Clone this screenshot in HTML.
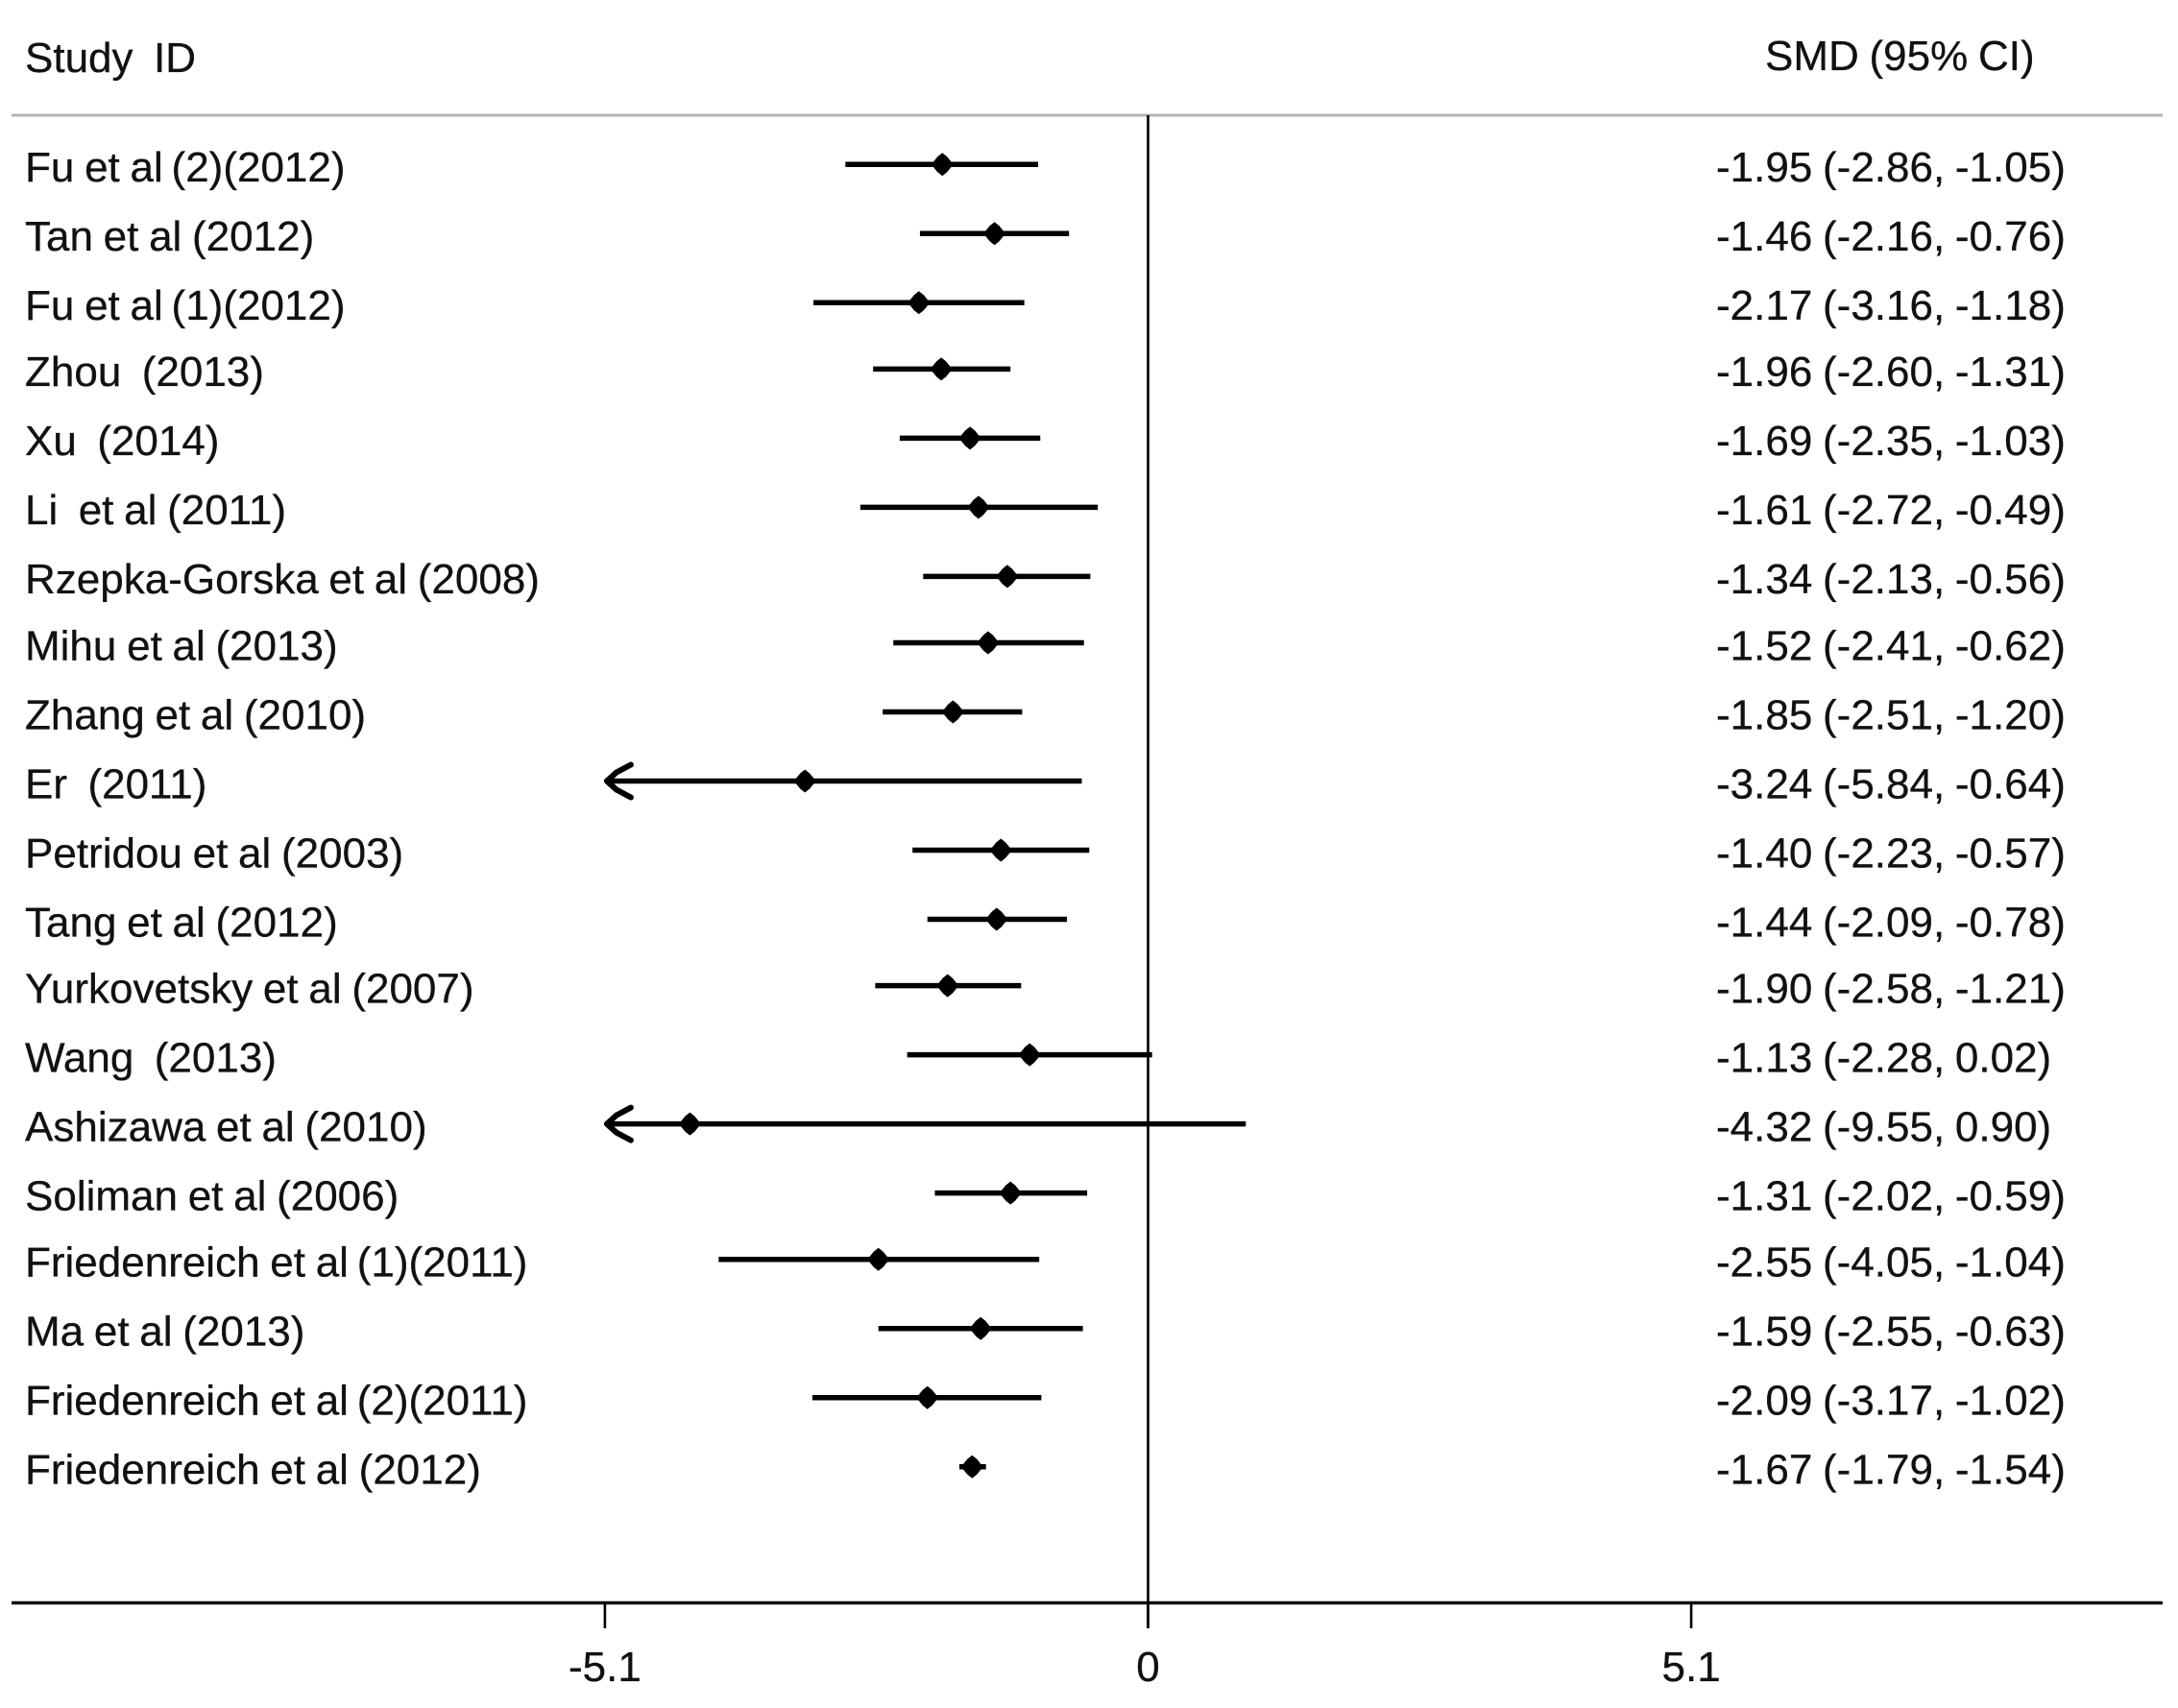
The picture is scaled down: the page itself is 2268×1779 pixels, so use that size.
<!DOCTYPE html>
<html lang="en">
<head>
<meta charset="utf-8">
<title>Forest plot of SMD (95% CI)</title>
<style>
html,body{margin:0;padding:0;background:#fff;}
svg{display:block;}
text{font-family:"Liberation Sans",Arial,sans-serif;font-size:44px;fill:#111;stroke:#111;stroke-width:0.3px;white-space:pre;word-spacing:-1.5px;}
</style>
</head>
<body>
<svg id="forest-plot" xmlns="http://www.w3.org/2000/svg" width="2268" height="1779" viewBox="0 0 2268 1779">
  <rect x="0" y="0" width="2268" height="1779" fill="#ffffff"></rect>
  <text x="26" y="75">Study  ID</text>
  <text x="1838" y="73">SMD (95% CI)</text>
  <line x1="12" x2="2252" y1="120" y2="120" stroke="#b4b4b4" stroke-width="3"></line>
  <line x1="12" x2="2252" y1="1669.5" y2="1669.5" stroke="#111" stroke-width="3.5"></line>
  <g id="axis-layer"></g>
  <g id="rows-layer"></g>
</svg>
<script>
const studies = ["Fu et al\u2009(2)(2012)","Tan et al (2012)","Fu et al\u2009(1)(2012)","Zhou  (2013)","Xu  (2014)","Li  et al (2011)","Rzepka-Gorska et al (2008)","Mihu et al (2013)","Zhang et al (2010)","Er  (2011)","Petridou et al (2003)","Tang et al (2012)","Yurkovetsky et al (2007)","Wang  (2013)","Ashizawa et al (2010)","Soliman et al (2006)","Friedenreich et al\u2009(1)(2011)","Ma et al (2013)","Friedenreich et al\u2009(2)(2011)","Friedenreich et al (2012)"];
const smd = [-1.95,-1.46,-2.17,-1.96,-1.69,-1.61,-1.34,-1.52,-1.85,-3.24,-1.40,-1.44,-1.90,-1.13,-4.32,-1.31,-2.55,-1.59,-2.09,-1.67];
const lower = [-2.86,-2.16,-3.16,-2.60,-2.35,-2.72,-2.13,-2.41,-2.51,-5.84,-2.23,-2.09,-2.58,-2.28,-9.55,-2.02,-4.05,-2.55,-3.17,-1.79];
const upper = [-1.05,-0.76,-1.18,-1.31,-1.03,-0.49,-0.56,-0.62,-1.20,-0.64,-0.57,-0.78,-1.21,0.02,0.90,-0.59,-1.04,-0.63,-1.02,-1.54];
const printedValues = ["-1.95 (-2.86, -1.05)","-1.46 (-2.16, -0.76)","-2.17 (-3.16, -1.18)","-1.96 (-2.60, -1.31)","-1.69 (-2.35, -1.03)","-1.61 (-2.72, -0.49)","-1.34 (-2.13, -0.56)","-1.52 (-2.41, -0.62)","-1.85 (-2.51, -1.20)","-3.24 (-5.84, -0.64)","-1.40 (-2.23, -0.57)","-1.44 (-2.09, -0.78)","-1.90 (-2.58, -1.21)","-1.13 (-2.28, 0.02)","-4.32 (-9.55, 0.90)","-1.31 (-2.02, -0.59)","-2.55 (-4.05, -1.04)","-1.59 (-2.55, -0.63)","-2.09 (-3.17, -1.02)","-1.67 (-1.79, -1.54)"];
const tickValues = [-5.1,0,5.1];
const tickLabels = ["-5.1","0","5.1"];

const NS = "http://www.w3.org/2000/svg";
const xMin = -5.1;
const xZero = 1195.5;
const xUnit = 110.9;
const markShift = 2;
function xScale(v){ return xZero + v * xUnit; }
function xMark(v){ return xScale(v) + markShift; }
function yScale(i){ return 171.3 + Math.round(i * 24.78) * 2.88; }

function make(tag, attrs, parent){
  const el = document.createElementNS(NS, tag);
  for (const k in attrs) el.setAttribute(k, attrs[k]);
  parent.appendChild(el);
  return el;
}

const axisLayer = document.getElementById("axis-layer");
const rowsLayer = document.getElementById("rows-layer");

const zeroLine = make("line",{x1:xScale(0),x2:xScale(0),y1:120,y2:1696,stroke:"#000","stroke-width":2.6},axisLayer);



tickValues.forEach(function(v,i){
  const tick = make("line",{x1:xScale(v),x2:xScale(v),y1:1669,y2:1696,stroke:"#000","stroke-width":2.6},axisLayer);
  
  
  const label = make("text",{x:xScale(v),y:1751,"text-anchor":"middle"},axisLayer);
  label.textContent = tickLabels[i];
  
  
});

studies.forEach(function(name,i){
  const y = yScale(i);
  const row = make("g",{},rowsLayer);
  
  

  const studyLabel = make("text",{x:26,y:y+17.8},row);
  studyLabel.textContent = name;
  
  

  const clipped = lower[i] < xMin;
  const x1 = xMark(Math.max(lower[i],xMin));
  const x2 = xMark(upper[i]);
  const ci = make("line",{x1:x1,x2:x2,y1:y,y2:y,stroke:"#000","stroke-width":5.5},row);
  
  

  if (clipped){
    const arrow = make("polyline",{points:[x1+25,y-17,x1+10,y-9,x1,y,x1+10,y+9,x1+25,y+17].join(" "),fill:"none",stroke:"#000","stroke-width":6,"stroke-linecap":"round","stroke-linejoin":"round"},row);
    
    
  }

  const cx = xMark(smd[i]);
  const diamond = make("polygon",{points:[cx-11.5,y,cx-5,y-8,cx,y-12,cx+5,y-8,cx+11.5,y,cx+5,y+8,cx,y+12,cx-5,y+8].join(" "),fill:"#000"},row);
  
  

  const valueLabel = make("text",{x:1787,y:y+17.8},row);
  valueLabel.textContent = printedValues[i];
  
  
});
</script>
</body>
</html>
